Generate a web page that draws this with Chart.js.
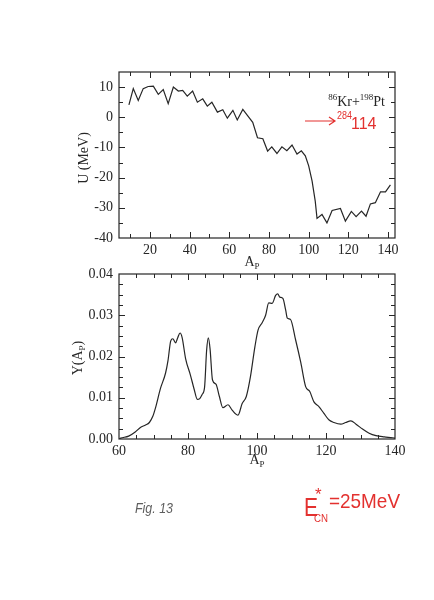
<!DOCTYPE html>
<html>
<head>
<meta charset="utf-8">
<script src="https://cdn.jsdelivr.net/npm/chart.js@4"></script>
<style>
    html, body { margin: 0; padding: 0; background: #ffffff; }
    #hoja { position: relative; width: 434px; height: 600px; overflow: hidden; }
    canvas { position: absolute; left: 0; top: 0; }
</style>
</head>
<body>
<div id="hoja">
    <canvas id="graficoU" width="434" height="600"></canvas>
    <canvas id="graficoY" width="434" height="600"></canvas>
</div>
<script>
// Datos: potencial U(A_P)
const topA = [9.4, 11.6, 14.1, 16.6, 19.1, 21.7, 24.2, 26.7, 29.2, 31.8, 34.3, 36.5, 38.8, 41.5, 43.9,
    46.6, 48.9, 51.2, 54.0, 56.7, 59.0, 61.8, 64.0, 66.8, 69.1, 71.8, 74.2, 76.9, 79.3, 81.4,
    84.0, 86.5, 89.0, 91.6, 94.1, 96.3, 98.3, 100.0, 101.7, 103.3, 104.2, 106.7, 109.2, 111.8, 116.0,
    118.5, 121.5, 123.9, 126.6, 128.9, 131.1, 133.6, 136.2, 138.7, 141.2];
const topU = [4.1, 9.5, 5.6, 9.5, 10.2, 10.3, 7.6, 9.2, 4.5, 10.0, 8.7, 8.9, 7.0, 8.7, 5.0,
    6.1, 3.7, 5.0, 1.7, 2.5, -0.3, 2.3, -0.9, 2.6, 0.6, -1.7, -6.8, -7.1, -11.2, -9.8,
    -12.0, -9.8, -11.1, -9.2, -12.2, -11.1, -12.8, -16.1, -21.1, -27.8, -33.5, -32.2, -35.0, -30.9, -30.2,
    -34.4, -31.2, -32.9, -31.1, -32.8, -28.7, -28.3, -24.7, -24.7, -22.4];

// Datos: rendimiento Y(A_P)
const botA = [60.0, 60.5, 62.8, 64.7, 66.2, 67.7, 68.8, 69.8, 70.6, 72.0, 73.5, 74.2, 75.0, 75.6, 76.4,
    77.0, 77.7, 78.3, 79.3, 80.7, 81.8, 82.7, 83.4, 84.1, 84.8, 85.4, 85.9, 86.4, 87.1, 88.1,
    89.1, 90.1, 91.6, 92.8, 94.5, 95.7, 96.9, 98.1, 99.4, 100.3, 101.5, 102.5, 103.4, 104.4, 105.4,
    106.0, 106.6, 107.5, 108.3, 108.8, 109.7, 111.2, 112.7, 114.1, 115.3, 116.5, 118.0, 119.4, 120.9, 122.3,
    124.3, 125.7, 127.2, 128.7, 130.6, 132.5, 134.5, 136.9, 139.3, 140.0];
const botY = [0.0000, 0.0002, 0.0007, 0.0017, 0.0028, 0.0034, 0.0040, 0.0055, 0.0076, 0.0122, 0.0160, 0.0190, 0.0238, 0.0243, 0.0233,
    0.0245, 0.0257, 0.0246, 0.0195, 0.0155, 0.0120, 0.0096, 0.0098, 0.0108, 0.0125, 0.0215, 0.0245, 0.0218, 0.0143, 0.0133,
    0.0103, 0.0076, 0.0083, 0.0070, 0.0058, 0.0086, 0.0103, 0.0151, 0.0224, 0.0264, 0.0282, 0.0300, 0.0330, 0.0329, 0.0348,
    0.0352, 0.0344, 0.0341, 0.0313, 0.0293, 0.0290, 0.0240, 0.0185, 0.0127, 0.0115, 0.0090, 0.0078, 0.0062, 0.0046, 0.0040,
    0.0036, 0.0040, 0.0044, 0.0036, 0.0024, 0.0014, 0.0008, 0.0005, 0.0003, 0.0002];

// Etiquetas de los ejes
const topXTicks = [20, 40, 60, 80, 100, 120, 140];
const topYTicks = [-40, -30, -20, -10, 0, 10];
const botXTicks = [60, 80, 100, 120, 140];
const botYTicks = [0, 0.01, 0.02, 0.03, 0.04];

const tinta = '#262626';
const rojo = '#e3312f';
const serif = "'Liberation Serif', 'DejaVu Serif', serif";
const mano = "'Liberation Sans Narrow', 'Liberation Sans', sans-serif";

// Marco con marcas hacia dentro en los cuatro lados
const marcoPlugin = {
    id: 'marco',
    afterDraw(chart, args, opts) {
        const { ctx, chartArea: a, scales: { x, y } } = chart;
        ctx.save();
        ctx.strokeStyle = tinta;
        ctx.lineWidth = 1.2;
        ctx.strokeRect(a.left, a.top, a.right - a.left, a.bottom - a.top);
        ctx.lineWidth = 1;
        ctx.beginPath();
        for (let v = opts.xFrom; v <= opts.xTo + 1e-9; v += opts.xStep) {
            const px = Math.round(x.getPixelForValue(v)) + 0.5;
            const len = opts.xMajor.some(m => Math.abs(m - v) < 1e-9) ? 6 : 4;
            ctx.moveTo(px, a.bottom); ctx.lineTo(px, a.bottom - len);
            ctx.moveTo(px, a.top); ctx.lineTo(px, a.top + len);
        }
        for (let v = opts.yFrom; v <= opts.yTo + 1e-9; v += opts.yStep) {
            const py = Math.round(y.getPixelForValue(v)) + 0.5;
            const len = opts.yMajor.some(m => Math.abs(m - v) < 1e-9) ? 6 : 4;
            ctx.moveTo(a.left, py); ctx.lineTo(a.left + len, py);
            ctx.moveTo(a.right, py); ctx.lineTo(a.right - len, py);
        }
        ctx.stroke();
        ctx.restore();
    }
};

// Texto con subindice / superindice
function trozos(ctx, partes, x, y) {
    let cx = x;
    partes.forEach(p => {
        ctx.font = p.font;
        ctx.fillStyle = p.color || tinta;
        ctx.fillText(p.t, cx, y + (p.dy || 0));
        cx += ctx.measureText(p.t).width;
    });
    return cx;
}
function anchoTrozos(ctx, partes) {
    let w = 0;
    partes.forEach(p => { ctx.font = p.font; w += ctx.measureText(p.t).width; });
    return w;
}

const fGrande = '14px ' + serif;
const fSub = '9px ' + serif;

const titulosU = {
    id: 'titulosU',
    afterDraw(chart) {
        const ctx = chart.ctx;
        ctx.save();
        ctx.textBaseline = 'alphabetic';
        // U (MeV)
        ctx.save();
        ctx.translate(88, 158);
        ctx.rotate(-Math.PI / 2);
        ctx.font = fGrande;
        ctx.fillStyle = tinta;
        ctx.textAlign = 'center';
        ctx.fillText('U (MeV)', 0, 0);
        ctx.restore();
        ctx.textAlign = 'left';
        // A_P
        const ap = [{ t: 'A', font: fGrande }, { t: 'P', font: fSub, dy: 3 }];
        trozos(ctx, ap, 252 - anchoTrozos(ctx, ap) / 2, 266);
        // 86Kr+198Pt
        const reac = [
            { t: '86', font: fSub, dy: -6 }, { t: 'Kr+', font: fGrande },
            { t: '198', font: fSub, dy: -6 }, { t: 'Pt', font: fGrande }
        ];
        trozos(ctx, reac, 385 - anchoTrozos(ctx, reac), 106);
        // flecha roja
        ctx.strokeStyle = rojo;
        ctx.lineWidth = 1.2;
        ctx.beginPath();
        ctx.moveTo(305, 121); ctx.lineTo(335, 121);
        ctx.moveTo(329, 117); ctx.lineTo(335, 121); ctx.lineTo(329, 125);
        ctx.stroke();
        ctx.fillStyle = rojo;
        ctx.font = '11px ' + mano;
        ctx.fillText('284', 337, 119, 15);
        ctx.font = '16px ' + mano;
        ctx.fillText('114', 351, 129, 28);
        ctx.restore();
    }
};

const titulosY = {
    id: 'titulosY',
    afterDraw(chart) {
        const ctx = chart.ctx;
        ctx.save();
        ctx.textBaseline = 'alphabetic';
        ctx.textAlign = 'left';
        // Y(A_P)
        const ya = [
            { t: 'Y(A', font: fGrande }, { t: 'P', font: fSub, dy: 3 }, { t: ')', font: fGrande }
        ];
        ctx.save();
        ctx.translate(82, 358);
        ctx.rotate(-Math.PI / 2);
        trozos(ctx, ya, -anchoTrozos(ctx, ya) / 2, 0);
        ctx.restore();
        // A_P
        const ap = [{ t: 'A', font: fGrande }, { t: 'P', font: fSub, dy: 3 }];
        trozos(ctx, ap, 257 - anchoTrozos(ctx, ap) / 2, 464);
        // Fig. 13 (a mano)
        ctx.fillStyle = '#5e5e5e';
        ctx.font = 'italic 14px ' + mano;
        ctx.fillText('Fig. 13', 135, 513, 38);
        // E*_CN = 25 MeV (a mano, rojo)
        ctx.fillStyle = rojo;
        ctx.font = '25px ' + mano;
        ctx.fillText('E', 304, 516, 14);
        ctx.font = '17px ' + mano;
        ctx.fillText('*', 315, 500);
        ctx.font = '11px ' + mano;
        ctx.fillText('CN', 314, 522, 14);
        ctx.font = '21px ' + mano;
        ctx.fillText('=25MeV', 329, 508, 71);
        ctx.restore();
    }
};

function escala(min, max, lista, formato, esY, ancho) {
    return {
        type: 'linear',
        min: min,
        max: max,
        grid: { display: false, drawTicks: false },
        border: { display: false },
        ticks: {
            color: tinta,
            font: { family: serif, size: 14 },
            padding: esY ? 6 : 4,
            callback: formato
        },
        afterBuildTicks: s => { s.ticks = lista.map(v => ({ value: v })); },
        afterFit: s => { if (esY) { s.width = ancho; } else { s.height = ancho; } }
    };
}

function opciones(padTop, padBottom, escalas, marco) {
    return {
        responsive: false,
        devicePixelRatio: 1,
        animation: false,
        layout: { padding: { top: padTop, bottom: padBottom, left: 0, right: 39 } },
        plugins: { legend: { display: false }, tooltip: { enabled: false }, marco: marco },
        scales: escalas
    };
}

// Grafico superior: U (MeV)
new Chart(document.getElementById('graficoU'), {
    type: 'scatter',
    data: {
        datasets: [{
            data: topA.map((a, i) => ({ x: a, y: topU[i] })),
            showLine: true,
            borderColor: tinta,
            borderWidth: 1.2,
            pointRadius: 0,
            tension: 0
        }]
    },
    options: opciones(72, 600 - 238 - 40, {
        x: escala(4.4, 143.5, topXTicks, v => String(v), false, 40),
        y: escala(-40, 15, topYTicks, v => String(v), true, 119)
    }, { xFrom: 10, xTo: 140, xStep: 10, xMajor: topXTicks, yFrom: -35, yTo: 10, yStep: 5, yMajor: topYTicks }),
    plugins: [marcoPlugin, titulosU]
});

// Grafico inferior: Y(A_P)
new Chart(document.getElementById('graficoY'), {
    type: 'scatter',
    data: {
        datasets: [{
            data: botA.map((a, i) => ({ x: a, y: botY[i] })),
            showLine: true,
            borderColor: tinta,
            borderWidth: 1.2,
            pointRadius: 0,
            cubicInterpolationMode: 'monotone'
        }]
    },
    options: opciones(274, 600 - 439 - 40, {
        x: escala(60, 140, botXTicks, v => String(v), false, 40),
        y: escala(0, 0.04, botYTicks, v => v.toFixed(2), true, 119)
    }, { xFrom: 65, xTo: 135, xStep: 5, xMajor: botXTicks, yFrom: 0.0025, yTo: 0.0375, yStep: 0.0025, yMajor: botYTicks }),
    plugins: [marcoPlugin, titulosY]
});
</script>
</body>
</html>
